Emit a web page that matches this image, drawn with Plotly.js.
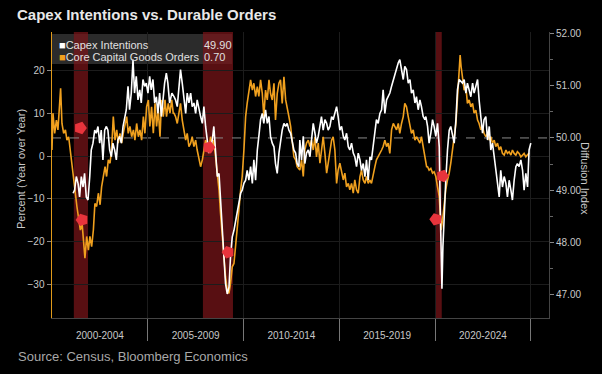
<!DOCTYPE html>
<html><head><meta charset="utf-8">
<script src="https://cdn.plot.ly/plotly-3.0.1.min.js"></script>
<style>html,body{margin:0;padding:0;background:#000;}#chart{width:602px;height:374px;}</style>
</head><body><div id="chart"></div>
<script>
// ---- Data ----
const periodLabels = ['2000-2004','2005-2009','2010-2014','2015-2019','2020-2024'];
const periodCenters = [2002.5,2007.5,2012.5,2017.5,2022.5];
const periodBounds = [2005,2010,2015,2020,2025];
const leftTicks = [-30,-20,-10,0,10,20];
const rightTicks = [47,48,49,50,51,52];

const recessionStart = [2001.14, 2007.88, 2020.02];
const recessionEnd   = [2001.88, 2009.45, 2020.35];

const capexDates = [2001.10,2001.18,2001.27,2001.36,2001.44,2001.53,2001.62,2001.70,2001.79,2001.88,2001.97,2002.05,2002.14,2002.23,2002.31,2002.40,2002.49,2002.57,2002.66,2002.75,2002.84,2002.92,2003.01,2003.10,2003.18,2003.27,2003.36,2003.44,2003.53,2003.62,2003.71,2003.79,2003.88,2003.97,2004.05,2004.14,2004.23,2004.31,2004.40,2004.49,2004.58,2004.66,2004.75,2004.84,2004.92,2005.01,2005.10,2005.18,2005.27,2005.36,2005.45,2005.53,2005.62,2005.71,2005.79,2005.88,2005.97,2006.05,2006.14,2006.26,
2006.37,2006.45,2006.54,2006.63,2006.71,2006.80,2006.89,2006.98,2007.06,2007.15,2007.24,2007.32,2007.41,2007.50,2007.58,2007.67,2007.76,2007.85,2007.93,2008.02,2008.11,2008.19,2008.28,2008.37,2008.45,2008.54,2008.63,2008.72,2008.80,2008.89,2008.98,2009.06,2009.15,2009.24,2009.32,2009.41,2009.50,2009.59,2009.67,2009.76,2009.85,2009.93,2010.02,2010.11,2010.19,2010.28,2010.37,2010.46,2010.54,2010.63,2010.72,2010.80,2010.89,2010.98,2011.06,2011.15,2011.24,2011.33,2011.41,2011.50,2011.59,2011.67,2011.76,2011.85,2011.93,2012.02,2012.11,2012.20,2012.28,2012.37,2012.46,2012.54,2012.63,2012.72,2012.80,2012.89,
2012.94,2013.03,2013.12,2013.20,2013.29,2013.38,2013.47,2013.55,2013.64,2013.73,2013.81,2013.90,2013.99,2014.07,2014.16,2014.25,2014.34,2014.42,2014.51,2014.60,2014.68,2014.77,2014.86,2014.94,2015.03,2015.12,2015.21,2015.29,2015.38,2015.47,2015.55,2015.64,2015.73,2015.81,2015.90,2015.99,2016.08,2016.16,2016.25,2016.34,2016.42,2016.51,2016.60,2016.68,2016.77,2016.86,2016.94,2017.03,2017.12,2017.21,2017.29,2017.38,2017.47,2017.55,2017.64,2017.73,2017.82,2017.90,2017.99,2018.08,2018.16,2018.25,2018.34,2018.42,2018.51,2018.60,2018.69,2018.77,2018.86,2018.95,2019.03,2019.12,2019.21,2019.29,2019.38,2019.47,
2019.52,2019.61,2019.69,2019.78,2019.87,2019.95,2020.04,2020.13,2020.22,2020.27,2020.32,2020.36,2020.41,2020.48,2020.56,2020.65,2020.74,2020.82,2020.91,2021.00,2021.09,2021.17,2021.26,2021.35,2021.43,2021.52,2021.61,2021.69,2021.78,2021.87,2021.96,2022.04,2022.13,2022.22,2022.30,2022.39,2022.48,2022.56,2022.65,2022.74,2022.83,2022.91,2023.00,2023.09,2023.17,2023.26,2023.35,2023.43,2023.52,2023.61,2023.70,2023.78,2023.87,2023.96,2024.04,2024.13,2024.22,2024.30,2024.39,2024.48,2024.57,2024.65,2024.74,2024.83,2024.91,2025.00];
const capexValues = [48.94,49.00,49.26,49.13,48.87,49.26,49.06,49.32,48.87,48.81,49.26,49.77,49.90,50.15,50.09,50.22,49.90,50.15,49.58,50.15,50.22,50.15,49.77,49.64,49.90,49.77,49.58,49.96,50.03,49.90,50.22,50.41,50.54,50.99,50.54,50.86,51.50,50.86,51.18,50.73,50.92,50.67,51.12,50.99,51.05,50.86,51.18,50.92,51.12,50.67,50.79,50.47,50.86,50.41,50.79,51.05,51.24,51.05,50.67,50.86,
50.79,50.73,50.60,51.05,51.31,51.05,50.73,50.47,50.86,50.67,50.86,50.60,50.67,50.47,50.73,50.54,50.41,50.28,50.60,50.22,49.96,49.71,49.83,49.96,50.22,49.77,49.26,49.32,48.81,48.36,47.72,47.21,47.01,47.14,47.72,48.10,48.23,48.42,48.55,48.74,48.94,49.00,49.13,49.19,49.38,49.19,49.45,49.13,49.58,49.19,49.77,50.03,50.35,50.47,50.28,50.54,50.28,50.41,50.03,49.90,49.83,49.51,49.32,49.71,49.96,50.15,50.28,50.22,50.28,50.15,50.09,49.96,49.77,49.71,49.51,49.45,
49.96,49.58,50.03,49.51,49.71,49.77,49.64,49.96,50.28,50.09,49.90,50.03,50.22,50.41,50.15,50.35,50.28,50.15,50.22,50.41,50.35,50.47,50.60,50.41,50.15,50.22,50.03,49.96,50.09,49.83,49.77,49.90,49.71,49.64,49.45,49.71,49.58,49.38,49.51,49.26,49.58,49.19,49.64,49.58,49.83,50.09,50.35,50.28,50.47,50.54,50.92,50.47,50.73,50.79,50.86,50.99,51.12,51.18,51.31,51.44,51.50,51.31,51.12,51.37,51.31,51.05,51.12,50.86,50.92,50.67,50.79,50.54,50.73,50.60,50.41,50.35,
50.41,50.22,49.90,50.09,50.35,50.22,50.03,50.28,49.83,48.68,47.40,47.11,47.91,48.68,49.19,49.77,50.15,50.22,50.03,49.90,50.35,50.92,51.12,51.08,51.05,51.12,50.86,51.05,50.92,50.79,51.05,50.86,50.99,51.12,50.73,50.41,50.09,50.35,50.41,49.96,50.22,49.77,49.90,49.64,49.38,49.19,48.87,49.38,49.06,49.26,49.13,48.87,49.19,49.00,48.81,49.19,49.45,49.51,49.45,49.58,49.38,49.00,49.32,49.06,49.77,49.90];

const ordersDates = [2000.00,2000.05,2000.14,2000.23,2000.31,2000.40,2000.45,2000.52,2000.61,2000.70,2000.78,2000.87,2000.96,2001.04,2001.13,2001.22,2001.30,2001.39,2001.48,2001.57,2001.65,2001.72,2001.81,2001.90,2001.98,2002.07,2002.16,2002.24,2002.33,2002.42,2002.51,2002.59,2002.68,2002.77,2002.85,2002.94,2003.03,2003.11,2003.20,2003.29,2003.38,2003.46,2003.55,2003.64,2003.72,2003.81,2003.90,2003.98,2004.07,2004.16,2004.25,2004.33,2004.42,2004.51,2004.59,2004.68,2004.77,2004.85,2004.94,2005.03,2005.11,2005.20,2005.29,2005.38,2005.46,2005.55,2005.64,2005.72,2005.81,2005.90,2005.98,2006.07,2006.16,2006.25,2006.33,
2006.37,2006.45,2006.54,2006.63,2006.71,2006.80,2006.89,2006.98,2007.06,2007.15,2007.24,2007.32,2007.41,2007.50,2007.58,2007.67,2007.76,2007.85,2007.93,2008.02,2008.11,2008.19,2008.28,2008.37,2008.45,2008.54,2008.63,2008.72,2008.80,2008.89,2008.98,2009.06,2009.15,2009.24,2009.32,2009.41,2009.50,2009.59,2009.67,2009.76,2009.85,2009.93,2010.02,2010.11,2010.19,2010.28,2010.37,2010.46,2010.54,2010.63,2010.72,2010.80,2010.89,2010.98,2011.06,2011.15,2011.24,2011.33,2011.41,2011.50,2011.59,2011.67,2011.76,2011.85,2011.93,2012.02,2012.11,2012.20,2012.28,2012.37,2012.46,2012.54,2012.63,2012.72,2012.80,
2012.94,2013.03,2013.12,2013.20,2013.29,2013.38,2013.47,2013.55,2013.64,2013.73,2013.81,2013.90,2013.99,2014.07,2014.16,2014.25,2014.34,2014.42,2014.51,2014.60,2014.68,2014.77,2014.86,2014.94,2015.03,2015.12,2015.21,2015.29,2015.38,2015.47,2015.55,2015.64,2015.73,2015.81,2015.90,2015.99,2016.08,2016.16,2016.25,2016.34,2016.42,2016.51,2016.60,2016.68,2016.77,2016.86,2016.94,2017.03,2017.12,2017.21,2017.29,2017.38,2017.47,2017.55,2017.64,2017.73,2017.82,2017.90,2017.99,2018.08,2018.16,2018.25,2018.34,2018.42,2018.51,2018.60,2018.69,2018.77,2018.86,2018.95,2019.03,2019.12,2019.21,2019.29,2019.38,2019.47,2019.56,
2019.61,2019.69,2019.78,2019.87,2019.95,2020.04,2020.13,2020.22,2020.27,2020.32,2020.39,2020.48,2020.56,2020.65,2020.74,2020.82,2020.91,2021.00,2021.09,2021.17,2021.26,2021.31,2021.36,2021.43,2021.52,2021.61,2021.69,2021.78,2021.87,2021.96,2022.04,2022.13,2022.22,2022.30,2022.39,2022.48,2022.56,2022.65,2022.74,2022.83,2022.91,2023.00,2023.09,2023.17,2023.26,2023.35,2023.43,2023.52,2023.61,2023.70,2023.78,2023.87,2023.96,2024.04,2024.13,2024.22,2024.30,2024.39,2024.48,2024.57,2024.65,2024.74,2024.83,2024.91];
const ordersValues = [1.4,10.0,5.3,8.4,6.1,11.5,15.8,7.6,5.3,6.1,3.7,4.5,1.4,-1.7,-5.6,-8.7,-11.8,-14.2,-17.3,-15.7,-20.4,-23.9,-18.8,-22.0,-18.8,-21.2,-17.3,-11.1,-11.8,-8.7,-11.4,-7.2,-4.8,-2.5,-4.8,-0.9,-1.7,1.4,9.2,3.7,6.1,3.0,5.3,3.0,5.3,6.9,9.2,5.3,6.9,4.5,6.1,3.7,7.6,4.5,6.1,3.7,9.2,5.3,11.5,13.1,6.9,11.5,5.3,12.3,6.9,10.7,4.5,13.1,9.2,13.1,9.2,12.3,10.0,13.1,10.0,
10.0,9.2,7.6,10.7,12.3,8.4,6.1,3.7,5.3,2.2,3.0,4.5,2.2,3.7,1.4,-0.2,-2.5,-0.9,1.4,3.7,2.2,1.4,4.5,2.2,3.7,-0.2,-2.5,-7.9,-13.4,-18.8,-25.1,-28.2,-31.3,-32.1,-29.8,-25.9,-25.1,-21.2,-17.3,-12.6,-7.9,-4.8,1.4,9.2,12.3,14.6,17.8,15.4,17.0,13.9,16.2,13.9,17.8,14.6,9.2,15.4,13.1,17.8,14.6,13.1,17.0,8.4,14.6,17.0,17.8,12.3,18.5,13.1,11.5,9.2,6.9,3.7,-0.2,-0.9,-2.5,
-3.3,-0.9,-4.8,1.4,3.0,3.7,2.2,3.7,1.4,4.5,-0.2,3.0,-1.7,1.4,4.5,0.6,-4.0,-1.7,1.4,3.7,4.5,1.4,-6.4,-3.3,-1.7,-4.0,-5.6,-4.0,-7.2,-6.4,-7.9,-6.4,-8.7,-5.6,-7.9,-8.7,-4.8,-3.3,-5.6,-6.4,-4.8,-6.4,-5.6,-6.4,-4.8,-2.5,-0.9,-0.2,0.6,1.4,2.2,3.7,2.2,3.0,0.6,6.1,7.6,6.9,6.1,7.6,5.3,7.6,9.2,12.3,11.5,9.2,6.9,5.3,6.1,3.7,4.5,3.7,3.0,4.5,2.2,-0.2,-2.5,
-2.5,-3.3,-2.9,-4.0,-3.7,-4.8,-7.2,-9.5,-13.4,-17.3,-15.0,-11.1,-7.9,-5.6,-4.0,-1.7,2.2,4.5,7.6,13.1,19.3,23.6,20.9,17.8,15.4,16.2,12.3,13.1,11.5,12.3,10.0,10.7,8.4,7.6,6.1,6.9,5.3,4.5,5.3,3.7,4.5,3.0,3.7,2.2,3.0,1.4,2.2,0.6,0.2,1.4,0.6,1.0,0.2,1.4,0.6,0.2,1.0,0.6,-0.2,0.2,0.6,-0.2,0.2,0.7];

// Bloomberg event markers (date, level on diffusion scale, pointing direction)
const eventDates  = [2001.48, 2001.57, 2008.19, 2009.20, 2020.39, 2020.04];
const eventLevels = [50.19, 48.43, 49.82, 47.81, 49.27, 48.44];
const eventAngles = [90, -90, 90, -90, 90, -90];

const seriesNames = ['Capex Intentions', 'Core Capital Goods Orders'];

// ---- Layout helpers ----
const FONT = 'Liberation Sans, Arial, sans-serif';
const PL = 52, PR = 549, PT = 32, PB = 318;
const px = v => (v - PL) / (PR - PL);
const py = v => (PB - v) / (PB - PT);

const capexLast = capexValues[capexValues.length - 1].toFixed(2);
const ordersLast = ordersValues[ordersValues.length - 1].toFixed(2);

const traces = [
  {x: ordersDates, y: ordersValues, type: 'scatter', mode: 'lines', yaxis: 'y',
   line: {color: '#f0a01e', width: 1.6}, hoverinfo: 'skip', showlegend: false},
  {x: capexDates, y: capexValues, type: 'scatter', mode: 'lines', yaxis: 'y2',
   line: {color: '#ffffff', width: 1.6}, hoverinfo: 'skip', showlegend: false},
  {x: eventDates, y: eventLevels, type: 'scatter', mode: 'markers', yaxis: 'y2',
   marker: {symbol: 'pentagon', size: 13, color: '#e8343c', angle: eventAngles, line: {width: 0}},
   hoverinfo: 'skip', showlegend: false}
];

const shapes = [
  {type: 'rect', xref: 'paper', yref: 'paper', x0: px(52), x1: px(232), y0: py(64), y1: py(34),
   fillcolor: 'rgba(58,58,58,0.75)', line: {width: 0}, layer: 'below'}
];
recessionStart.forEach((s, i) => shapes.push({
  type: 'rect', xref: 'x', yref: 'paper', x0: s, x1: recessionEnd[i], y0: 0, y1: 1,
  fillcolor: 'rgba(125,22,26,0.7)', line: {width: 0}, layer: 'below'}));
shapes.push({type: 'line', xref: 'paper', yref: 'y2', x0: 0, x1: 1, y0: 50, y1: 50,
  line: {color: '#8a8a8a', width: 1, dash: 'dash'}, layer: 'below'});

const annotations = [
  {xref: 'paper', yref: 'paper', x: px(57), y: py(45), xanchor: 'left', yanchor: 'middle', showarrow: false,
   text: '<span style="color:#ffffff">■</span>' + seriesNames[0], font: {family: FONT, size: 11, color: '#e0e0e0'}},
  {xref: 'paper', yref: 'paper', x: px(57), y: py(57), xanchor: 'left', yanchor: 'middle', showarrow: false,
   text: '<span style="color:#f0a01e">■</span>' + seriesNames[1], font: {family: FONT, size: 11, color: '#e0e0e0'}},
  {xref: 'paper', yref: 'paper', x: px(202), y: py(45), xanchor: 'left', yanchor: 'middle', showarrow: false,
   text: capexLast, font: {family: FONT, size: 11, color: '#e0e0e0'}},
  {xref: 'paper', yref: 'paper', x: px(202), y: py(57), xanchor: 'left', yanchor: 'middle', showarrow: false,
   text: ordersLast, font: {family: FONT, size: 11, color: '#e0e0e0'}},
  {xref: 'paper', yref: 'paper', x: px(21), y: py(169), xanchor: 'center', yanchor: 'middle', showarrow: false,
   textangle: -90, text: 'Percent (Year over Year)', font: {family: FONT, size: 11, color: '#c8c8c8'}},
  {xref: 'paper', yref: 'paper', x: px(585), y: py(178), xanchor: 'center', yanchor: 'middle', showarrow: false,
   textangle: 90, text: 'Diffusion Index', font: {family: FONT, size: 11, color: '#c8c8c8'}},
  {xref: 'paper', yref: 'paper', x: px(16), y: py(357), xanchor: 'left', yanchor: 'middle', showarrow: false,
   text: 'Source: Census, Bloomberg Economics', font: {family: FONT, size: 13, color: '#a8a8a8'}}
];

const layout = {
  width: 602, height: 374,
  margin: {l: PL, r: 602 - PR, t: PT, b: 374 - PB, pad: 0},
  paper_bgcolor: '#000', plot_bgcolor: '#000',
  font: {family: FONT, color: '#c8c8c8'},
  showlegend: false,
  title: {text: '<b>Capex Intentions vs. Durable Orders</b>', xref: 'container', yref: 'container',
          x: 17 / 602, xanchor: 'left', y: 1 - 15 / 374, yanchor: 'middle',
          font: {family: FONT, size: 15, color: '#e8e8e8'}},
  xaxis: {range: [2000, 2025.95], tickmode: 'array', tickvals: periodCenters, ticktext: periodLabels,
          ticks: '', showgrid: false, zeroline: false, showline: true, linecolor: '#444', linewidth: 1,
          tickfont: {family: FONT, size: 10, color: '#c8c8c8'}, ticklabelstandoff: 8,
          minor: {tickmode: 'array', tickvals: periodBounds, ticks: 'outside', ticklen: 22, tickwidth: 1,
                  tickcolor: '#777', showgrid: true, gridcolor: '#1c1c1c'}},
  yaxis: {range: [-37.85, 28.97], tickmode: 'array', tickvals: leftTicks, ticks: 'outside', ticklen: 4,
          tickcolor: '#888', showline: true, linecolor: '#e09a1a', linewidth: 1.5, showgrid: true,
          gridcolor: '#1c1c1c', zeroline: false, tickfont: {family: FONT, size: 10, color: '#c8c8c8'}},
  yaxis2: {overlaying: 'y', side: 'right', range: [46.55, 52.03], tickmode: 'array', tickvals: rightTicks,
           tickformat: '.2f', ticks: 'outside', ticklen: 4, tickcolor: '#888', showline: true,
           linecolor: '#444', showgrid: false, zeroline: false,
           tickfont: {family: FONT, size: 10, color: '#c8c8c8'},
           minor: {dtick: 0.5, ticks: 'outside', ticklen: 3, tickcolor: '#666'}},
  shapes: shapes,
  annotations: annotations
};

Plotly.newPlot('chart', traces, layout, {displayModeBar: false, staticPlot: true});
</script></body></html>
